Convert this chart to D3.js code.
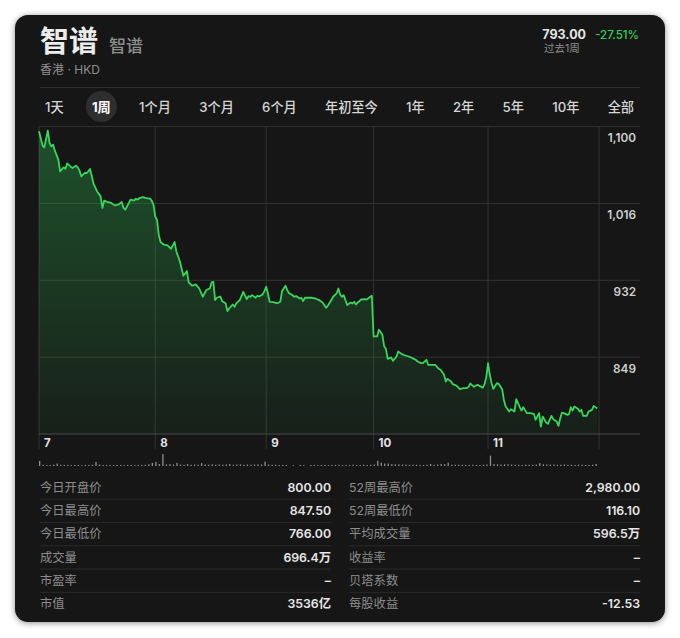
<!DOCTYPE html>
<html><head><meta charset="utf-8">
<script src="https://cdn.jsdelivr.net/npm/d3@7"></script>
<style>
html,body{margin:0;padding:0;background:#fff;}
svg{display:block;}
text{font-family: Inter, "Noto Sans CJK SC", "Noto Sans", sans-serif;}
</style></head><body>
<svg id="c" width="680" height="638"></svg>
<script>
// ---------- DATA ----------
const titleName = "智谱";
const subName = "智谱";
const exchangeLine = "香港 · HKD";
const lastPrice = "793.00";
const periodChange = "-27.51%";
const periodLabel = "过去1周";
const tabs = ["1天","1周","1个月","3个月","6个月","年初至今","1年","2年","5年","10年","全部"];
const activeTab = "1周";

const days = ["7","8","9","10","11"];
const dayStart = [0, 66, 129, 190, 255];   // bar index where each day begins
const barCount = 318;                      // bars in the 1-week window
const yTicks = [1099.6, 1016.0, 932.4, 848.8];
const yMin = 765.2;

// price line: bar index and price
const priceBars = [
 0,2,3,5,6,7,8,9,11,12,14,15,16,18,19,21,22,23,24,26,27,28,29,30,31,33,35,36,37,39,41,43,45,47,48,49,51,52,54,55,56,57,59,61,63,64,65,66,
 67,68,69,71,73,75,77,78,80,82,84,85,87,89,91,93,95,97,98,99,100,101,103,104,106,107,108,110,111,112,114,116,118,119,120,121,123,124,125,127,128,129,
 130,131,133,135,136,137,138,140,141,142,143,145,146,148,149,150,151,155,157,159,161,162,163,164,166,167,169,170,171,172,173,174,175,177,178,179,180,181,183,185,186,188,189,
 190,192,193,195,196,197,198,200,201,203,204,206,208,210,212,214,215,217,218,220,221,225,227,228,230,231,232,234,235,237,239,241,243,244,245,247,249,250,252,253,254,
 255,256,257,258,260,261,263,264,265,267,268,270,271,273,274,275,277,279,281,282,284,285,286,288,289,291,292,294,295,296,297,298,300,301,302,303,304,306,307,308,309,311,312,314,315,317
];
const prices = [
 1094.5,1079.2,1077.0,1095.2,1081.8,1078.1,1080.0,1073.4,1063.6,1050.9,1055.3,1053.8,1059.6,1056.0,1054.6,1057.1,1055.3,1051.7,1045.5,1049.2,1049.0,1050.9,1053.5,1045.5,1037.2,1029.1,1023.7,1011.1,1019.0,1017.6,1016.5,1013.9,1014.6,1017.6,1011.1,1009.2,1016.5,1020.1,1019.0,1021.2,1020.1,1021.9,1023.0,1021.9,1021.2,1019.0,1014.6,1001.9,
 998.3,982.0,974.0,971.1,970.3,966.7,974.0,963.8,952.9,937.3,942.5,930.1,926.5,927.9,923.5,914.5,921.8,923.5,930.1,930.8,910.9,913.4,914.8,909.8,907.2,898.9,901.7,906.1,903.6,907.2,910.9,919.9,912.0,915.2,914.5,916.3,913.4,915.6,914.8,917.0,920.7,925.4,
 918.1,909.0,908.7,907.6,907.9,909.0,920.7,926.5,921.8,918.1,917.4,914.5,915.2,912.6,913.4,909.8,913.4,913.4,912.6,910.9,908.3,905.5,902.5,904.7,910.9,914.5,918.1,923.5,917.0,914.5,916.3,910.9,905.5,908.3,907.2,909.0,906.1,908.3,911.5,912.0,911.5,914.2,915.6,
 871.3,871.3,878.6,873.1,860.4,857.9,847.0,848.4,844.8,849.5,854.9,852.1,850.6,849.5,847.7,845.9,844.1,842.3,842.3,845.9,840.5,840.5,836.1,835.0,829.6,822.3,825.2,822.3,819.4,817.9,814.0,815.1,815.1,816.8,820.1,816.5,818.7,817.6,815.7,819.4,827.0,
 842.3,829.6,820.5,814.3,820.5,819.8,814.0,802.3,795.1,789.6,792.2,789.6,803.1,794.4,790.7,794.4,787.9,787.9,787.1,780.6,787.9,773.3,784.2,777.6,776.2,784.9,781.3,778.7,774.0,782.4,788.5,787.9,786.0,786.8,794.4,790.7,795.1,792.6,789.6,791.5,784.9,784.9,789.6,791.5,795.8,793.0
];

// volume (万股) per pair of bars
const volume = [
 25,6,5,5,6,12,6,5,5,4,5,5,4,5,5,6,20,7,5,5,
 5,4,5,5,4,5,5,4,5,5,6,8,15,20,9,58,8,9,7,15,
 7,6,9,6,7,6,14,7,6,8,6,7,6,7,10,6,7,8,6,7,
 6,7,8,7,21,7,6,6,5,5,5,0,4,0,5,4,0,5,5,4,
 5,5,4,5,5,6,4,5,5,6,5,5,6,5,6,7,25,16,12,12,
 9,8,8,7,7,6,6,6,5,5,6,10,6,7,9,9,16,6,6,6,
 6,5,5,6,5,5,6,7,50,9,8,7,8,8,7,6,6,5,6,6,
 6,7,14,8,7,7,7,6,6,7,6,6,5,6,6,5,5,6,10
];

const statLeftLabels = ["今日开盘价","今日最高价","今日最低价","成交量","市盈率","市值"];
const statLeftValues = ["800.00","847.50","766.00","696.4万","–","3536亿"];
const statRightLabels = ["52周最高价","52周最低价","平均成交量","收益率","贝塔系数","每股收益"];
const statRightValues = ["2,980.00","116.10","596.5万","–","–","-12.53"];

// ---------- DRAW ----------
const svg = d3.select("#c");
const defs = svg.append("defs");
const sh = defs.append("filter").attr("id","sh").attr("x","-5%").attr("y","-5%").attr("width","110%").attr("height","110%");
sh.append("feDropShadow").attr("dx",0).attr("dy",1).attr("stdDeviation",3).attr("flood-color","#000").attr("flood-opacity",0.45);

const grad = defs.append("linearGradient").attr("id","ag").attr("gradientUnits","userSpaceOnUse")
  .attr("x1",0).attr("x2",0).attr("y1",126).attr("y2",434);
grad.append("stop").attr("offset","0%").attr("stop-color","#30d158").attr("stop-opacity",0.32);
grad.append("stop").attr("offset","100%").attr("stop-color","#30d158").attr("stop-opacity",0.05);

svg.append("rect").attr("x",15).attr("y",15).attr("width",650).attr("height",607)
  .attr("rx",13).attr("fill","#161616").attr("filter","url(#sh)");

// header
svg.append("text").attr("x",40).attr("y",52).attr("font-size",29).attr("font-weight",700)
  .attr("fill","#ececec").text(titleName);
svg.append("text").attr("x",109).attr("y",51.5).attr("font-size",17).attr("font-weight",500)
  .attr("fill","#8e8e8e").text(subName);
svg.append("text").attr("x",40).attr("y",74).attr("font-size",12)
  .attr("fill","#8e8e8e").text(exchangeLine);
svg.append("text").attr("x",586).attr("y",39).attr("text-anchor","end").attr("font-size",12.5)
  .attr("font-weight",700).attr("fill","#e6e6e6").text(lastPrice);
svg.append("text").attr("x",639).attr("y",39).attr("text-anchor","end").attr("font-size",11.5)
  .attr("font-weight",500).attr("fill","#30d158").text(periodChange);
svg.append("text").attr("x",544).attr("y",51.5).attr("font-size",10.5)
  .attr("fill","#8e8e8e").text(periodLabel);

svg.append("line").attr("x1",40).attr("x2",640).attr("y1",87.5).attr("y2",87.5)
  .attr("stroke","#2c2c2c").attr("stroke-width",1);

// tabs: equal gaps between labels
const tabG = svg.append("g");
const tabTexts = tabG.selectAll("text.tab").data(tabs).join("text")
  .attr("class","tab").attr("y",111.5).attr("font-size",13.2)
  .attr("font-weight",d => d === activeTab ? 700 : 500)
  .attr("fill",d => d === activeTab ? "#ffffff" : "#d6d6d6").text(d => d);
const widths = tabTexts.nodes().map(n => n.getComputedTextLength());
const tabLeft = 45, tabRight = 634;
const gap = (tabRight - tabLeft - d3.sum(widths)) / (tabs.length - 1);
let cx = tabLeft;
const tabX = widths.map(w => { const x0 = cx; cx += w + gap; return x0; });
tabTexts.attr("x",(d,i) => tabX[i]);
const ai = tabs.indexOf(activeTab);
tabG.insert("circle","text").attr("cx",tabX[ai] + widths[ai]/2).attr("cy",106.5).attr("r",15.5)
  .attr("fill","#2e2e2e");

// chart scales
const x = d3.scaleLinear().domain([0, barCount]).range([39, 599]);
const y = d3.scaleLinear().domain([yMin, yTicks[0]]).range([434, 126.6]);
const gridRight = 640;

const grid = svg.append("g");
grid.selectAll("line.h").data(yTicks).join("line").attr("class","h")
  .attr("x1",x(0)).attr("x2",gridRight).attr("y1",d => y(d)).attr("y2",d => y(d))
  .attr("stroke","#323232").attr("stroke-width",1);
grid.selectAll("line.v").data(dayStart.concat([barCount])).join("line").attr("class","v")
  .attr("x1",d => x(d)).attr("x2",d => x(d)).attr("y1",y(yTicks[0])).attr("y2",449)
  .attr("stroke","#323232").attr("stroke-width",1);

const pts = priceBars.map((b,i) => [b, prices[i]]);
const area = d3.area().x(d => x(d[0])).y0(y(yMin)).y1(d => y(d[1]));
const line = d3.line().x(d => x(d[0])).y(d => y(d[1]));
svg.append("path").datum(pts).attr("d",area).attr("fill","url(#ag)");
svg.append("path").datum(pts).attr("d",line).attr("fill","none")
  .attr("stroke","#38d65b").attr("stroke-width",1.8).attr("stroke-linejoin","round");

svg.append("line").attr("x1",x(0)).attr("x2",gridRight).attr("y1",y(yMin)).attr("y2",y(yMin))
  .attr("stroke","#4a4a4a").attr("stroke-width",1.2);

// y labels
svg.selectAll("text.yl").data(yTicks).join("text").attr("class","yl")
  .attr("x",636).attr("y",d => y(d) + 15.5).attr("text-anchor","end")
  .attr("font-size",11.8).attr("font-weight",600).attr("fill","#cfcfcf")
  .text(d => d3.format(",.0f")(d));

// day labels
svg.selectAll("text.dl").data(days).join("text").attr("class","dl")
  .attr("x",(d,i) => x(dayStart[i]) + 5).attr("y",446.5)
  .attr("font-size",11.5).attr("font-weight",700).attr("fill","#e2e2e2").text(d => d);

// volume
const vh = d3.scaleLinear().domain([0, d3.max(volume)]).range([0, 12]);
const vBase = 466;
svg.selectAll("rect.vol").data(volume).join("rect").attr("class","vol")
  .attr("x",(d,i) => x(i*2)).attr("width",1.3)
  .attr("y",d => vBase - vh(d)).attr("height",d => vh(d)).attr("fill","#8f8f8f");

// stats table
const rowY0 = 487.5, rowH = 23.3;
const tbl = svg.append("g").attr("font-size",12.3);
function col(labels, values, lx, rx) {
  labels.forEach((lab,i) => {
    const cy = rowY0 + i*rowH;
    tbl.append("text").attr("x",lx).attr("y",cy + 4.3).attr("fill","#8d8d8d").text(lab);
    tbl.append("text").attr("x",rx).attr("y",cy + 4.3).attr("text-anchor","end")
      .attr("font-weight",600).attr("fill","#e6e6e6").text(values[i]);
    if (i < labels.length - 1) {
      tbl.append("line").attr("x1",lx).attr("x2",rx).attr("y1",cy + rowH/2).attr("y2",cy + rowH/2)
        .attr("stroke","#2a2a2a").attr("stroke-width",1);
    }
  });
}
col(statLeftLabels, statLeftValues, 40, 331);
col(statRightLabels, statRightValues, 349, 640);
</script>
</body></html>
